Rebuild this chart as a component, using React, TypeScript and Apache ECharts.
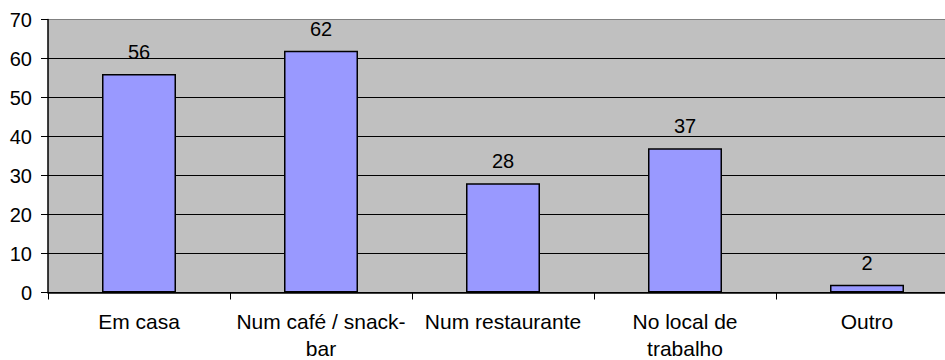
import React, { useEffect, useRef } from "react";
import * as echarts from "echarts";

const categories = [
  "Em casa",
  "Num café / snack-\nbar",
  "Num restaurante",
  "No local de\ntrabalho",
  "Outro",
];
const values = [56, 62, 28, 37, 2];
const yTicks = [0, 10, 20, 30, 40, 50, 60, 70];

const FONT = "'Liberation Sans', Arial, sans-serif";

export default function App() {
  const ref = useRef<HTMLDivElement>(null);

  useEffect(() => {
    document.body.style.margin = "0";
    if (!ref.current) return;
    const chart = echarts.init(ref.current, null, { renderer: "svg" });
    const yMax = yTicks[yTicks.length - 1];
    chart.setOption({
      animation: false,
      textStyle: { fontFamily: FONT },
      grid: {
        left: 48,
        top: 19.5,
        right: 2,
        bottom: 67.5,
        outerBoundsMode: "none",
        containLabel: false,
        show: true,
        backgroundColor: "#C0C0C0",
        borderColor: "#808080",
        borderWidth: 0,
      },
      xAxis: {
        type: "category",
        data: categories,
        axisLine: { lineStyle: { color: "#000", width: 1.5 } },
        axisTick: { show: true, length: 7, lineStyle: { color: "#000" } },
        axisLabel: {
          color: "#000",
          fontSize: 21,
          lineHeight: 27,
          margin: 15,
          fontFamily: FONT,
          interval: 0,
        },
      },
      yAxis: {
        type: "value",
        min: yTicks[0],
        max: yMax,
        interval: 10,
        axisLine: { show: true, lineStyle: { color: "#000", width: 1.5 } },
        axisTick: { show: true, length: 7, lineStyle: { color: "#000" } },
        axisLabel: {
          color: "#000",
          fontSize: 20,
          margin: 16,
          fontFamily: FONT,
        },
        splitLine: {
          show: true,
          lineStyle: {
            color: yTicks.map((t) => (t === yMax ? "#808080" : "#000")),
          },
        },
      },
      series: [
        {
          type: "bar",
          data: values,
          barWidth: 74,
          itemStyle: {
            color: "#9999FF",
            borderColor: "#000",
            borderWidth: 1.5,
          },
          label: {
            show: true,
            position: "top",
            distance: 12,
            color: "#000",
            fontSize: 20,
            fontFamily: FONT,
          },
        },
      ],
    });
    return () => chart.dispose();
  }, []);

  // The plot area runs a little past the right edge of the visible frame.
  return (
    <div style={{ width: 945, height: 360, overflow: "hidden" }}>
      <div ref={ref} style={{ width: 960, height: 360 }} />
    </div>
  );
}
